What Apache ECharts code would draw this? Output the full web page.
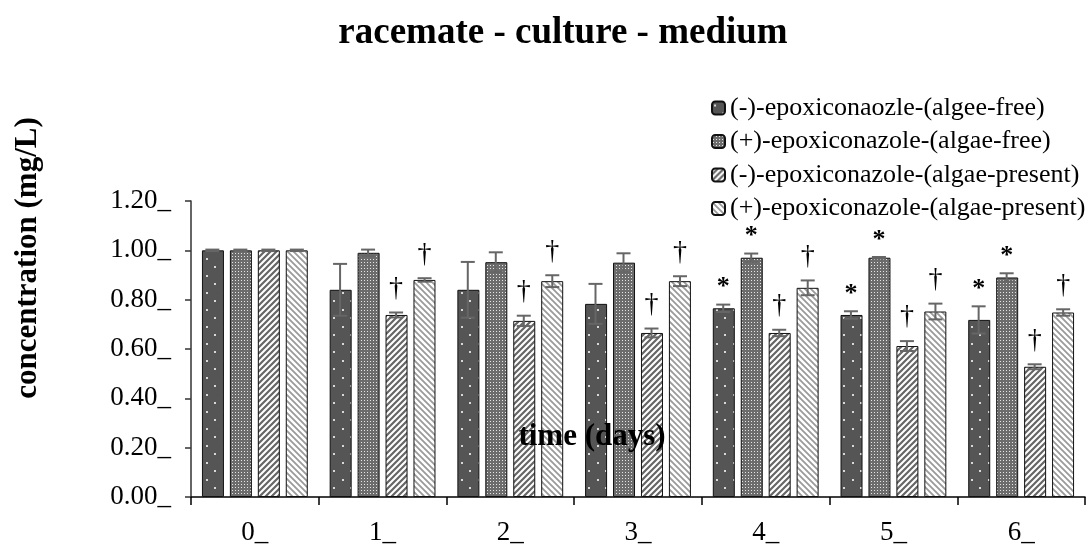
<!DOCTYPE html>
<html>
<head>
<meta charset="utf-8">
<script src="https://cdn.jsdelivr.net/npm/echarts@6/dist/echarts.min.js"></script>
<style>html,body{margin:0;padding:0;background:#fff}#c{width:1090px;height:549px}</style>
</head>
<body>
<div id="c"></div>
<script>
const categories = ['0_', '1_', '2_', '3_', '4_', '5_', '6_'];
const seriesNames = [
  '(-)-epoxiconaozle-(algee-free)',
  '(+)-epoxiconazole-(algae-free)',
  '(-)-epoxiconazole-(algae-present)',
  '(+)-epoxiconazole-(algae-present)'
];
const minusFree     = [1.00, 0.84, 0.84, 0.783, 0.765, 0.738, 0.718];
const plusFree      = [1.00, 0.99, 0.952, 0.95, 0.97, 0.97, 0.89];
const minusPresent  = [1.00, 0.738, 0.714, 0.665, 0.665, 0.612, 0.528];
const plusPresent   = [1.00, 0.88, 0.875, 0.875, 0.848, 0.752, 0.748];
const errMinusFree    = [0.003, 0.105, 0.113, 0.081, 0.015, 0.015, 0.055];
const errPlusFree     = [0.003, 0.013, 0.04, 0.038, 0.017, 0.003, 0.017];
const errMinusPresent = [0.003, 0.01, 0.021, 0.018, 0.013, 0.02, 0.01];
const errPlusPresent  = [0.003, 0.007, 0.024, 0.02, 0.03, 0.032, 0.013];
const markMinusFree    = ['', '', '', '', '*', '*', '*'];
const markPlusFree     = ['', '', '', '', '*', '*', '*'];
const markMinusPresent = ['', '†', '†', '†', '†', '†', '†'];
const markPlusPresent  = ['', '†', '†', '†', '†', '†', '†'];

const values = [minusFree, plusFree, minusPresent, plusPresent];
const errors = [errMinusFree, errPlusFree, errMinusPresent, errPlusPresent];
const marks = [markMinusFree, markPlusFree, markMinusPresent, markPlusPresent];

const FONT = '"Liberation Serif","Times New Roman",serif';

function mk(w, h, draw) {
  const c = document.createElement('canvas');
  c.width = w; c.height = h;
  const g = c.getContext('2d');
  draw(g, w, h);
  return c;
}
const pat1 = mk(17, 17, (g, w, h) => {
  g.fillStyle = '#555'; g.fillRect(0, 0, w, h);
  g.fillStyle = '#d8d8d8';
  g.fillRect(2, 3, 2, 2); g.fillRect(10, 11, 2, 2);
});
const pat2 = mk(3, 3, (g, w, h) => {
  g.fillStyle = '#6c6c6c'; g.fillRect(0, 0, w, h);
  g.fillStyle = '#e6e6e6'; g.fillRect(1, 1, 1, 1);
});
const pat3 = mk(6, 6, (g, w, h) => {
  g.fillStyle = '#fff'; g.fillRect(0, 0, w, h);
  g.strokeStyle = '#666'; g.lineWidth = 2.2;
  g.beginPath();
  g.moveTo(-1, 7); g.lineTo(7, -1);
  g.moveTo(-4, 4); g.lineTo(4, -4);
  g.moveTo(2, 10); g.lineTo(10, 2);
  g.stroke();
});
const pat4 = mk(6, 6, (g, w, h) => {
  g.fillStyle = '#fff'; g.fillRect(0, 0, w, h);
  g.strokeStyle = '#9a9a9a'; g.lineWidth = 1.8;
  g.beginPath();
  g.moveTo(-1, -1); g.lineTo(7, 7);
  g.moveTo(-4, 2); g.lineTo(4, 10);
  g.moveTo(2, -4); g.lineTo(10, 4);
  g.stroke();
});
const patterns = [pat1, pat2, pat3, pat4];
const offsets = [-42.5, -14.5, 13.5, 42];

const series = [];
values.forEach((vals, k) => {
  series.push({
    name: seriesNames[k],
    type: 'bar',
    data: vals,
    barWidth: 22,
    barGap: '27%',
    itemStyle: { color: { image: patterns[k], repeat: 'repeat' }, borderColor: '#111', borderWidth: 1 }
  });
});
values.forEach((vals, k) => {
  series.push({
    type: 'custom',
    z: 5,
    silent: true,
    data: vals.map((v, i) => [i, v, errors[k][i], marks[k][i]]),
    encode: { x: 0, y: 1 },
    renderItem: function (params, api) {
      const i = api.value(0), v = api.value(1), e = api.value(2);
      const m = marks[k][i];
      const p = api.coord([i, v]);
      const t = api.coord([i, v + e]);
      const b = api.coord([i, v - e]);
      const x = p[0] + offsets[k];
      const st = { stroke: '#666', lineWidth: 2 };
      const ch = [
        { type: 'line', shape: { x1: x, y1: b[1], x2: x, y2: t[1] }, style: st },
        { type: 'line', shape: { x1: x - 7, y1: t[1], x2: x + 7, y2: t[1] }, style: st },
        { type: 'line', shape: { x1: x - 7, y1: b[1], x2: x + 7, y2: b[1] }, style: st }
      ];
      if (m) {
        const isStar = m === '*';
        ch.push({
          type: 'text',
          style: {
            text: m, x: x, y: t[1] - (isStar ? 4 : 10),
            align: 'center', verticalAlign: 'bottom',
            font: (isStar ? 'bold 26px ' : '28px ') + FONT, fill: '#000'
          }
        });
      }
      return { type: 'group', children: ch };
    }
  });
});

const chart = echarts.init(document.getElementById('c'), null, { renderer: 'canvas' });
chart.setOption({
  animation: false,
  backgroundColor: '#fff',
  title: {
    text: 'racemate - culture - medium',
    left: 558, top: 10, textAlign: 'center',
    textStyle: { fontFamily: FONT, fontSize: 37, fontWeight: 'bold', color: '#000' }
  },
  legend: {
    orient: 'vertical',
    left: 711, top: 95,
    itemWidth: 13, itemHeight: 13, itemGap: 7.5, padding: 0,
    data: seriesNames,
    textStyle: { fontFamily: FONT, fontSize: 26, color: '#000' }
  },
  grid: { left: 191, right: 5, top: 201, bottom: 52 },
  xAxis: {
    type: 'category',
    data: categories,
    axisLine: { lineStyle: { color: '#000', width: 1.5 } },
    axisTick: { show: true, length: 8, lineStyle: { color: '#000', width: 1.5 } },
    axisLabel: { margin: 22, fontFamily: FONT, fontSize: 27, color: '#000' }
  },
  yAxis: {
    type: 'value', min: 0, max: 1.2, interval: 0.2,
    axisLine: { show: true, lineStyle: { color: '#333', width: 1.5 } },
    axisTick: { show: true, length: 6, lineStyle: { color: '#333', width: 1.5 } },
    splitLine: { show: false },
    axisLabel: { margin: 20, fontFamily: FONT, fontSize: 27, color: '#000',
      formatter: v => v.toFixed(2) + '_' }
  },
  graphic: [
    { type: 'text', x: 28, y: 258, rotation: Math.PI / 2,
      style: { text: 'concentration (mg/L)', align: 'center', verticalAlign: 'middle',
        font: 'bold 31px ' + FONT, fill: '#000' } },
    { type: 'text', x: 592, y: 437, z: 100,
      style: { text: 'time (days)', align: 'center', verticalAlign: 'middle',
        font: 'bold 31px ' + FONT, fill: '#000' } }
  ],
  series: series
});
</script>
</body>
</html>
